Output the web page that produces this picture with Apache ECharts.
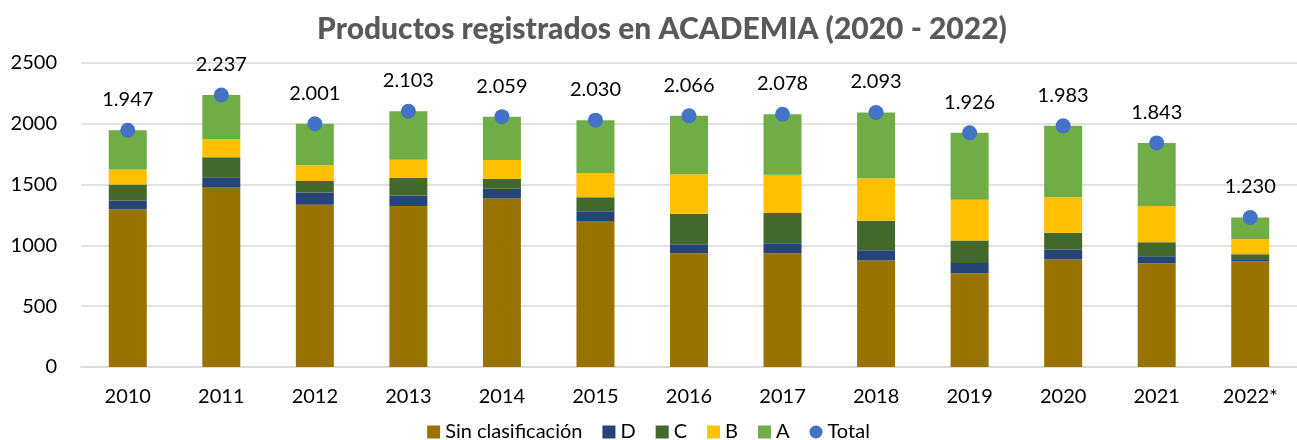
<!DOCTYPE html>
<html>
<head>
<meta charset="utf-8">
<script src="https://cdn.jsdelivr.net/npm/echarts@6/dist/echarts.min.js"></script>
<style>
  html, body { margin: 0; padding: 0; background: #fff; }
  #chart { width: 1297px; height: 440px; }
</style>
</head>
<body>
<div id="chart"></div>
<script>
  // años
  const years = ['2010', '2011', '2012', '2013', '2014', '2015', '2016', '2017', '2018', '2019', '2020', '2021', '2022*']

  // productos por categoría
  const sinClasificacion = [1295, 1480, 1335, 1325, 1385, 1200, 935, 935, 875, 770, 885, 853, 868]
  const catD = [75, 80, 100, 85, 80, 80, 75, 82, 85, 86, 80, 57, 12]
  const catC = [130, 165, 95, 145, 82, 115, 250, 250, 242, 185, 140, 115, 47]
  const catB = [125, 150, 130, 150, 155, 200, 325, 315, 350, 335, 290, 300, 125]
  const catA = [322, 362, 341, 398, 357, 435, 481, 496, 541, 550, 588, 518, 178]
  const total = [1947, 2237, 2001, 2103, 2059, 2030, 2066, 2078, 2093, 1926, 1983, 1843, 1230]

  const yTicks = [0, 500, 1000, 1500, 2000, 2500]

  const font = 'Lato'

  // separador de miles con punto
  function fmtMiles(v) {
    if (v < 1000) return String(v)
    return Math.floor(v / 1000) + '.' + String(v % 1000).padStart(3, '0')
  }

  function barSerie(name, data, color) {
    return {
      name: name,
      type: 'bar',
      stack: 'total',
      barWidth: 38,
      data: data,
      itemStyle: { color: color }
    }
  }

  const chart = echarts.init(document.getElementById('chart'))

  chart.setOption({
    animation: false,
    textStyle: { fontFamily: font },
    title: {
      text: 'Productos registrados en ACADEMIA (2020 - 2022)',
      left: 657,
      textAlign: 'center',
      top: 9,
      textStyle: { fontFamily: font, fontSize: 30, fontWeight: 900, color: '#595959' }
    },
    legend: {
      top: 417,
      left: 'center',
      itemWidth: 13,
      itemHeight: 13,
      itemGap: 20,
      textStyle: { fontFamily: font, fontSize: 20, color: '#000' },
      data: [
        { name: 'Sin clasificación', icon: 'rect' },
        { name: 'D', icon: 'rect' },
        { name: 'C', icon: 'rect' },
        { name: 'B', icon: 'rect' },
        { name: 'A', icon: 'rect' },
        { name: 'Total', icon: 'circle', itemStyle: { color: '#4472C4', opacity: 1 } }
      ]
    },
    grid: { left: 81, right: -11, top: 63, bottom: 73 },
    xAxis: {
      type: 'category',
      data: years,
      axisTick: { show: false },
      axisLine: { lineStyle: { color: '#d9d9d9', width: 1.5 } },
      axisLabel: { fontFamily: font, fontSize: 20, color: '#000', margin: 20 }
    },
    yAxis: {
      type: 'value',
      min: yTicks[0],
      max: yTicks[yTicks.length - 1],
      interval: 500,
      axisLine: { show: false },
      axisTick: { show: false },
      splitLine: { lineStyle: { color: '#d9d9d9', width: 1.5 } },
      axisLabel: { fontFamily: font, fontSize: 20, color: '#000', margin: 24, formatter: v => String(v) }
    },
    series: [
      barSerie('Sin clasificación', sinClasificacion, '#997300'),
      barSerie('D', catD, '#264478'),
      barSerie('C', catC, '#43682B'),
      barSerie('B', catB, '#FFC000'),
      barSerie('A', catA, '#70AD47'),
      {
        name: 'Total',
        type: 'scatter',
        data: total,
        symbolSize: 15,
        itemStyle: { color: '#4472C4', opacity: 1 },
        z: 5,
        label: {
          show: true,
          position: 'top',
          distance: 13,
          fontFamily: font,
          fontSize: 20,
          color: '#000',
          formatter: p => fmtMiles(p.value)
        }
      }
    ]
  })
</script>
</body>
</html>
